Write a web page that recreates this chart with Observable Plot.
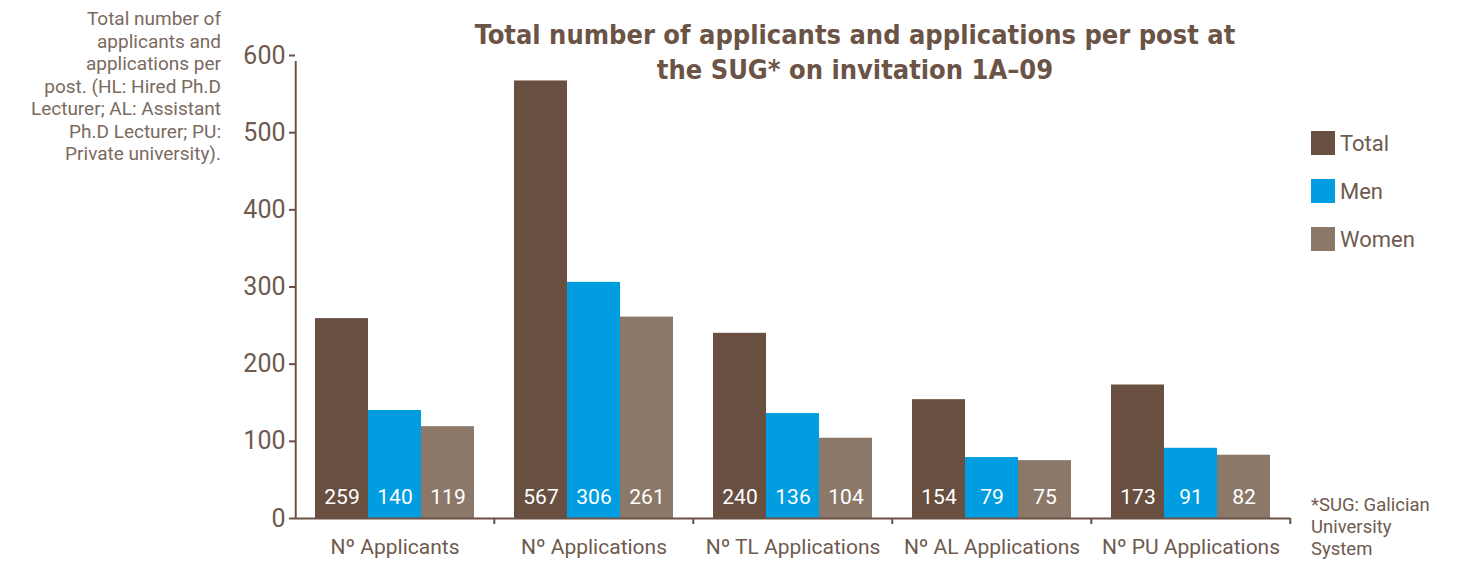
<!DOCTYPE html>
<html><head><meta charset="utf-8">
<script src="https://cdn.jsdelivr.net/npm/d3@7"></script>
<script src="https://cdn.jsdelivr.net/npm/@observablehq/plot@0.6"></script>
<style>
body{margin:0;background:#fff;}
#wrap{position:relative;width:1458px;height:561px;font-family:Roboto,sans-serif;color:#6e5a4e;overflow:hidden;}
#chart{position:absolute;left:0;top:0;}
#title{position:absolute;left:455px;width:800px;top:17px;text-align:center;font-weight:bold;font-size:27px;line-height:35px;color:#6b5446;font-family:"DejaVu Sans Condensed",Roboto,sans-serif;}
#ynote{position:absolute;right:1237px;top:8px;text-align:right;font-size:19px;line-height:22.5px;color:#7a6a60;white-space:nowrap;}
#legend{position:absolute;left:1311px;top:131px;}
.li{display:flex;align-items:center;height:24px;margin-bottom:24px;font-size:22px;color:#6e5a4e;}
.sw{width:24px;height:24px;margin-right:5px;}
#foot{position:absolute;left:1311px;top:494px;font-size:18.5px;line-height:22px;color:#6e5a4e;}
</style></head><body>
<div id="wrap">
<div id="chart"></div>
<div id="title">Total number of applicants and applications per post at<br>the SUG* on invitation 1A–09</div>
<div id="ynote">Total number of<br>applicants and<br>applications per<br>post. (HL: Hired Ph.D<br>Lecturer; AL: Assistant<br>Ph.D Lecturer; PU:<br>Private university).</div>
<div id="legend"></div>
<div id="foot">*SUG: Galician<br>University<br>System</div>
</div>
<script>
const categories = ["Nº Applicants","Nº Applications","Nº TL Applications","Nº AL Applications","Nº PU Applications"];
const seriesNames = ["Total","Men","Women"];
const totalValues = [259,567,240,154,173];
const menValues = [140,306,136,79,91];
const womenValues = [119,261,104,75,82];
const yTicks = [0,100,200,300,400,500,600];
const seriesColors = ["#684f40","#009ee0","#8c7868"];
const axisColor = "#6b5144";

const seriesValues = [totalValues, menValues, womenValues];
const data = categories.flatMap((c,i)=>seriesNames.map((s,j)=>({category:c, series:s, value:seriesValues[j][i]})));

const padOuter = 0.37;
const facetW = (1458-295-168)/5;
const step = facetW/(3+2*padOuter);
const edgeDx = step/2 + padOuter*step;

const chart = Plot.plot({
  width:1458, height:561,
  marginLeft:295, marginRight:168, marginTop:55, marginBottom:43,
  style:{fontFamily:"Roboto, sans-serif", color:"#6e5a4e", background:"transparent", overflow:"visible"},
  fx:{domain:categories, padding:0, label:null},
  x:{domain:seriesNames, paddingInner:0, paddingOuter:padOuter, axis:null},
  y:{domain:[0,600], label:null},
  color:{domain:seriesNames, range:seriesColors},
  marks:[
    Plot.barY(data,{fx:"category", x:"series", y:"value", fill:"series"}),
    Plot.text(data,{fx:"category", x:"series", y:0, text:d=>String(d.value), fill:"white", fontSize:21, dy:-21, lineAnchor:"middle"}),
    Plot.ruleY([0],{stroke:axisColor, strokeWidth:2}),
    Plot.ruleX(categories,{fx:d=>d, x:()=>"Women", y1:0, y2:0, insetBottom:-6, dx:edgeDx, stroke:axisColor, strokeWidth:2}),
    Plot.ruleX([categories[0]],{fx:d=>d, x:()=>"Total", y1:0, y2:600, insetBottom:-6, dx:-edgeDx, stroke:axisColor, strokeWidth:2}),
    Plot.axisY({ticks:yTicks, tickSize:6, tickPadding:4, fontSize:25, stroke:axisColor, strokeWidth:2, label:null}),
    Plot.axisFx({anchor:"bottom", tickSize:0, tickPadding:21, fontSize:21, label:null})
  ]
});
document.getElementById("chart").appendChild(chart);

const legend = document.getElementById("legend");
seriesNames.forEach((s,i)=>{
  const row = document.createElement("div"); row.className="li";
  const sw = document.createElement("div"); sw.className="sw"; sw.style.background=seriesColors[i];
  const t = document.createElement("span"); t.textContent=s;
  row.appendChild(sw); row.appendChild(t); legend.appendChild(row);
});
</script>
</body></html>
